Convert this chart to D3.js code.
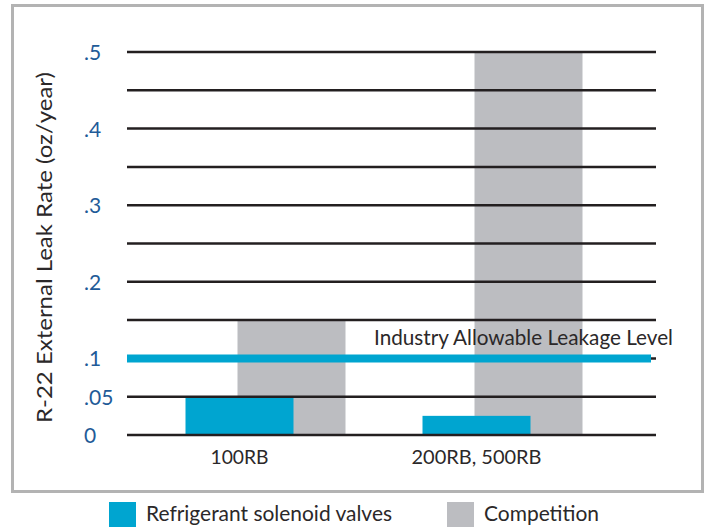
<!DOCTYPE html>
<html lang="en">
<head>
<meta charset="UTF-8">
<title>R-22 External Leak Rate</title>
<script src="https://d3js.org/d3.v7.min.js"></script>
<style>
    body { margin: 0; background: #fff; }
    text { font-family: Lato, "Open Sans", sans-serif; fill: #2b2829; }
    .tick-label { fill: #1f5b98; font-size: 21px; }
</style>
</head>
<body>
<svg width="707" height="527"></svg>
<script>
    // data
    const categories = ["100RB", "200RB, 500RB"];
    const valves = [0.05, 0.025];       // Refrigerant solenoid valves
    const competition = [0.15, 0.5];    // Competition
    const industryLevel = 0.1;
    const industryLabel = "Industry Allowable Leakage Level";
    const tickValues = [0, 0.05, 0.1, 0.2, 0.3, 0.4, 0.5];
    const tickLabels = ["0", ".05", ".1", ".2", ".3", ".4", ".5"];
    const seriesNames = ["Refrigerant solenoid valves", "Competition"];
    const yTitle = "R-22 External Leak Rate (oz/year)";

    const blue = "#00a5d0";
    const grey = "#bcbdc1";

    const svg = d3.select("svg");

    // outer frame
    svg.append("rect")
        .attr("x", 12.5).attr("y", 5.5)
        .attr("width", 690).attr("height", 486)
        .attr("fill", "none")
        .attr("stroke", "#b3b3b3")
        .attr("stroke-width", 3);

    const plotLeft = 127, plotRight = 656;

    const y = d3.scaleLinear()
        .domain([0, 0.5])
        .range([435, 52]);

    const x = d3.scaleBand()
        .domain(categories)
        .range([121, 595])
        .padding(0);

    const barW = 108, offset = 52;
    const center = c => x(c) + x.bandwidth() / 2;

    // competition bars (behind)
    svg.selectAll(".comp")
        .data(categories)
        .enter().append("rect")
        .attr("class", "comp")
        .attr("x", c => center(c) - barW / 2 + offset)
        .attr("y", (c, i) => y(competition[i]))
        .attr("width", barW)
        .attr("height", (c, i) => y(0) - y(competition[i]))
        .attr("fill", grey);

    // valve bars
    svg.selectAll(".valve")
        .data(categories)
        .enter().append("rect")
        .attr("class", "valve")
        .attr("x", c => center(c) - barW / 2)
        .attr("y", (c, i) => y(valves[i]))
        .attr("width", barW)
        .attr("height", (c, i) => y(0) - y(valves[i]))
        .attr("fill", blue);

    // gridlines every .05
    svg.selectAll(".grid")
        .data(d3.ticks(0, 0.5, 10))
        .enter().append("line")
        .attr("x1", plotLeft).attr("x2", plotRight)
        .attr("y1", d => y(d)).attr("y2", d => y(d))
        .attr("stroke", "#231f20")
        .attr("stroke-width", 2.5);

    // industry level line
    svg.append("line")
        .attr("x1", plotLeft).attr("x2", 651)
        .attr("y1", y(industryLevel)).attr("y2", y(industryLevel))
        .attr("stroke", blue)
        .attr("stroke-width", 8);

    svg.append("text")
        .attr("x", 374)
        .attr("y", y(industryLevel) - 13)
        .attr("font-size", 20.5)
        .attr("textLength", 299)
        .attr("lengthAdjust", "spacingAndGlyphs")
        .text(industryLabel);

    // y tick labels
    svg.selectAll(".tick-label")
        .data(tickValues)
        .enter().append("text")
        .attr("class", "tick-label")
        .attr("x", 84)
        .attr("y", d => y(d))
        .attr("dy", "0.38em")
        .text((d, i) => tickLabels[i]);

    // y title
    svg.append("text")
        .attr("transform", "translate(52, 247.5) rotate(-90)")
        .attr("text-anchor", "middle")
        .attr("font-size", 22)
        .attr("textLength", 351)
        .attr("lengthAdjust", "spacingAndGlyphs")
        .text(yTitle);

    // category labels
    const catW = [58, 130];
    svg.selectAll(".cat")
        .data(categories)
        .enter().append("text")
        .attr("class", "cat")
        .attr("x", c => center(c))
        .attr("y", 464)
        .attr("text-anchor", "middle")
        .attr("font-size", 20)
        .attr("textLength", (c, i) => catW[i])
        .attr("lengthAdjust", "spacingAndGlyphs")
        .text(c => c);

    // legend
    const legend = svg.append("g").attr("transform", "translate(109, 502)");
    const legendX = [0, 338];
    const legendColors = [blue, grey];
    const legendW = [246, 115];

    legend.selectAll("rect")
        .data(seriesNames)
        .enter().append("rect")
        .attr("x", (d, i) => legendX[i])
        .attr("y", 0)
        .attr("width", 27).attr("height", 26)
        .attr("fill", (d, i) => legendColors[i]);

    legend.selectAll("text")
        .data(seriesNames)
        .enter().append("text")
        .attr("x", (d, i) => legendX[i] + 37)
        .attr("y", 19)
        .attr("font-size", 21)
        .attr("textLength", (d, i) => legendW[i])
        .attr("lengthAdjust", "spacingAndGlyphs")
        .text(d => d);
</script>
</body>
</html>
